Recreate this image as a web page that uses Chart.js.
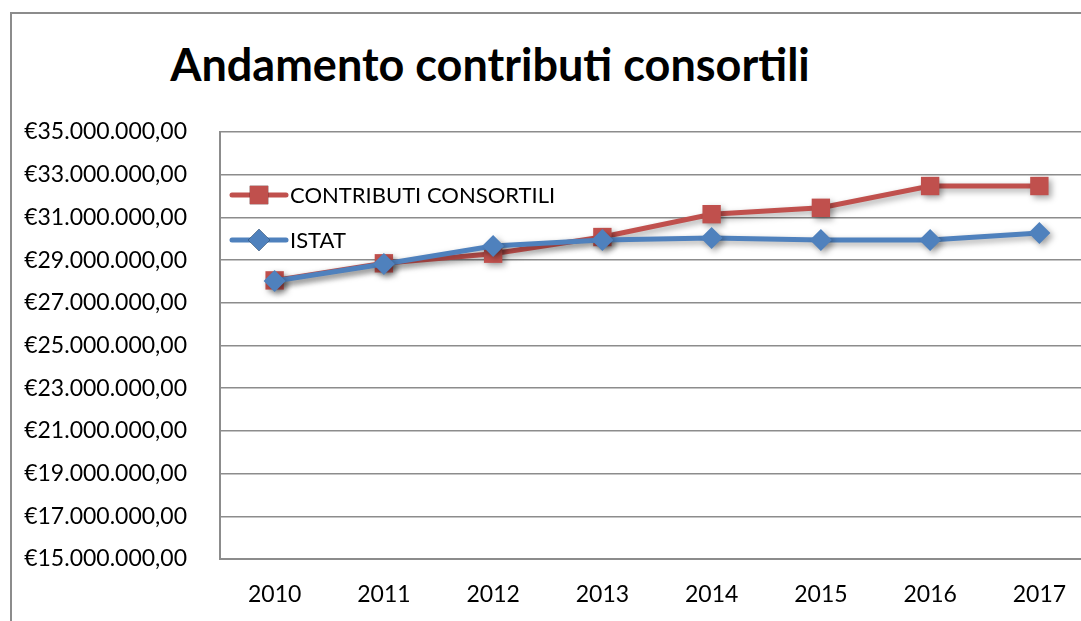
<!DOCTYPE html>
<html>
<head>
<meta charset="utf-8">
<script src="https://cdn.jsdelivr.net/npm/chart.js@4.4.0/dist/chart.umd.min.js"></script>
<style>
  html, body { margin: 0; padding: 0; width: 1081px; height: 621px; overflow: hidden; background: #fff; }
  #frame { position: absolute; left: 10px; top: 12px; width: 1200px; height: 700px; border: 2px solid #8c8c8c; box-sizing: border-box; }
  #title { position: absolute; left: 0; width: 980px; top: 37px; text-align: center;
           font-family: Lato, sans-serif; font-weight: bold; font-size: 45px; color: #000; }
  #wrap { position: absolute; left: 0; top: 0; width: 1110px; height: 621px; }
</style>
</head>
<body>
<div id="frame"></div>
<div id="title">Andamento contributi consortili</div>
<div id="wrap"><canvas id="chart"></canvas></div>
<script>
// data
const years = ['2010', '2011', '2012', '2013', '2014', '2015', '2016', '2017'];
const contributi = [28050000, 28850000, 29300000, 30080000, 31150000, 31450000, 32470000, 32470000];
const istat = [28020000, 28820000, 29660000, 29940000, 30040000, 29940000, 29940000, 30270000];
const yMin = 15000000;
const yMax = 35000000;
const yStep = 2000000;

const redColor = '#C0504D';
const blueColor = '#4F81BD';

// euro format like 35.000.000,00
function euro(v) {
  var s = Math.round(v).toString().replace(/\B(?=(\d{3})+(?!\d))/g, '.');
  return '€' + s + ',00';
}

// shadow under the lines
const shadowPlugin = {
  id: 'lineShadow',
  beforeDatasetDraw: function(chart) {
    chart.ctx.save();
    chart.ctx.shadowColor = 'rgba(0,0,0,0.35)';
    chart.ctx.shadowBlur = 6;
    chart.ctx.shadowOffsetX = 3;
    chart.ctx.shadowOffsetY = 3;
  },
  afterDatasetDraw: function(chart) {
    chart.ctx.restore();
  }
};

// legend drawn inside plot, line + marker like excel
const innerLegend = {
  id: 'innerLegend',
  afterDraw: function(chart) {
    const ctx = chart.ctx;
    const area = chart.chartArea;
    const items = [
      { ds: chart.data.datasets[1], dy: 63 },
      { ds: chart.data.datasets[0], dy: 108 }
    ];
    items.forEach(function(it) {
      const y = area.top + it.dy;
      const x0 = area.left + 12;
      ctx.save();
      ctx.strokeStyle = it.ds.borderColor;
      ctx.lineWidth = 5;
      ctx.lineCap = 'round';
      ctx.beginPath();
      ctx.moveTo(x0, y);
      ctx.lineTo(x0 + 54, y);
      ctx.stroke();
      Chart.helpers.drawPoint(ctx, {
        pointStyle: it.ds.pointStyle,
        radius: it.ds.pointRadius,
        borderWidth: 0
      }, x0 + 27, y);
      ctx.fillStyle = it.ds.backgroundColor;
      ctx.fill();
      ctx.fillStyle = '#000';
      ctx.font = '22px Lato';
      ctx.textBaseline = 'middle';
      ctx.fillText(it.ds.label, x0 + 58, y + 1);
      ctx.restore();
    });
  }
};

const ctx = document.getElementById('chart').getContext('2d');
const chart = new Chart(ctx, {
  type: 'line',
  data: {
    labels: years,
    datasets: [
      {
        label: 'ISTAT',
        data: istat,
        borderColor: blueColor,
        backgroundColor: blueColor,
        borderWidth: 5,
        pointStyle: 'rectRot',
        pointRadius: 11,
        pointBorderWidth: 0,
        tension: 0,
        order: 0
      },
      {
        label: 'CONTRIBUTI CONSORTILI',
        data: contributi,
        borderColor: redColor,
        backgroundColor: redColor,
        borderWidth: 5,
        pointStyle: 'rect',
        pointRadius: 13,
        pointBorderWidth: 0,
        tension: 0,
        order: 1
      }
    ]
  },
  options: {
    responsive: true,
    maintainAspectRatio: false,
    animation: false,
    layout: { padding: { top: 132, left: 0, right: 16, bottom: 12 } },
    plugins: {
      legend: { display: false },
      title: { display: false },
      tooltip: { enabled: false }
    },
    scales: {
      x: {
        offset: true,
        grid: { display: false, drawTicks: false },
        border: { display: true, color: '#8c8c8c', width: 2 },
        ticks: { color: '#000', font: { family: 'Lato', size: 23 }, padding: 22, maxRotation: 0 },
        afterFit: function(scale) { scale.height = 50; }
      },
      y: {
        min: yMin,
        max: yMax,
        grid: { color: '#8c8c8c', lineWidth: 1.5, drawTicks: false },
        border: { display: true, color: '#8c8c8c', width: 2 },
        ticks: {
          stepSize: yStep,
          color: '#000',
          font: { family: 'Lato', size: 23 },
          padding: 33,
          callback: function(v) { return euro(v); }
        },
        afterFit: function(scale) { scale.width = 220; }
      }
    }
  },
  plugins: [shadowPlugin, innerLegend]
});
</script>
</body>
</html>
